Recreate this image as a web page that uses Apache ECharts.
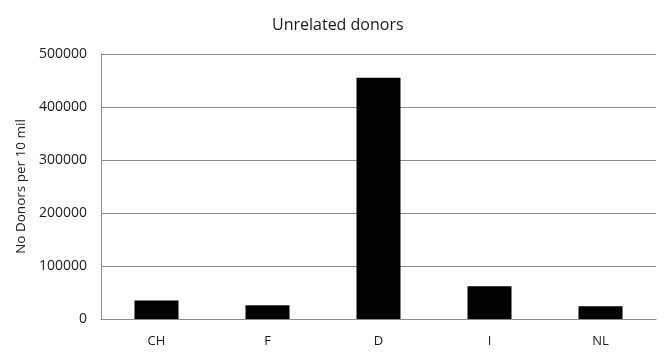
<!DOCTYPE html>
<html><head><meta charset="utf-8">
<script src="https://cdn.jsdelivr.net/npm/echarts@6/dist/echarts.min.js"></script>
<style>html,body{margin:0;padding:0;background:#fff}#c{width:670px;height:360px}</style>
</head><body><div id="c"></div>
<script>
const categories = ['CH', 'F', 'D', 'I', 'NL'];
const donors = [35000, 26000, 455000, 62000, 24000];
const yTicks = [0, 100000, 200000, 300000, 400000, 500000];

const chart = echarts.init(document.getElementById('c'), null, {renderer: 'canvas'});
chart.setOption({
  animation: false,
  backgroundColor: '#fff',
  title: {
    text: 'Unrelated donors', left: 267, top: 12,
    textStyle: {fontFamily: 'Open Sans', fontSize: 16, fontWeight: 'normal', color: '#1a1a1a'}
  },
  grid: {left: 101, right: 14, top: 54, bottom: 41},
  xAxis: {
    type: 'category', data: categories,
    axisLine: {lineStyle: {color: '#8c8c8c', width: 1}},
    axisTick: {show: false},
    axisLabel: {fontFamily: 'Open Sans', fontSize: 13, color: '#1a1a1a', margin: 16}
  },
  yAxis: {
    type: 'value', min: yTicks[0], max: yTicks[yTicks.length - 1], interval: 100000,
    name: 'No Donors per 10 mil', nameLocation: 'middle', nameGap: 72, nameRotate: 90,
    nameTextStyle: {fontFamily: 'Open Sans', fontSize: 13.5, color: '#1a1a1a'},
    axisLine: {show: true, lineStyle: {color: '#8c8c8c'}},
    axisTick: {show: false},
    axisLabel: {fontFamily: 'Open Sans', fontSize: 14, color: '#1a1a1a', margin: 14,
      formatter: v => String(v)},
    splitLine: {lineStyle: {color: '#8c8c8c', width: 1}}
  },
  series: [{
    type: 'bar', data: donors, barWidth: 44,
    itemStyle: {color: '#000'}
  }]
});
</script></body></html>
